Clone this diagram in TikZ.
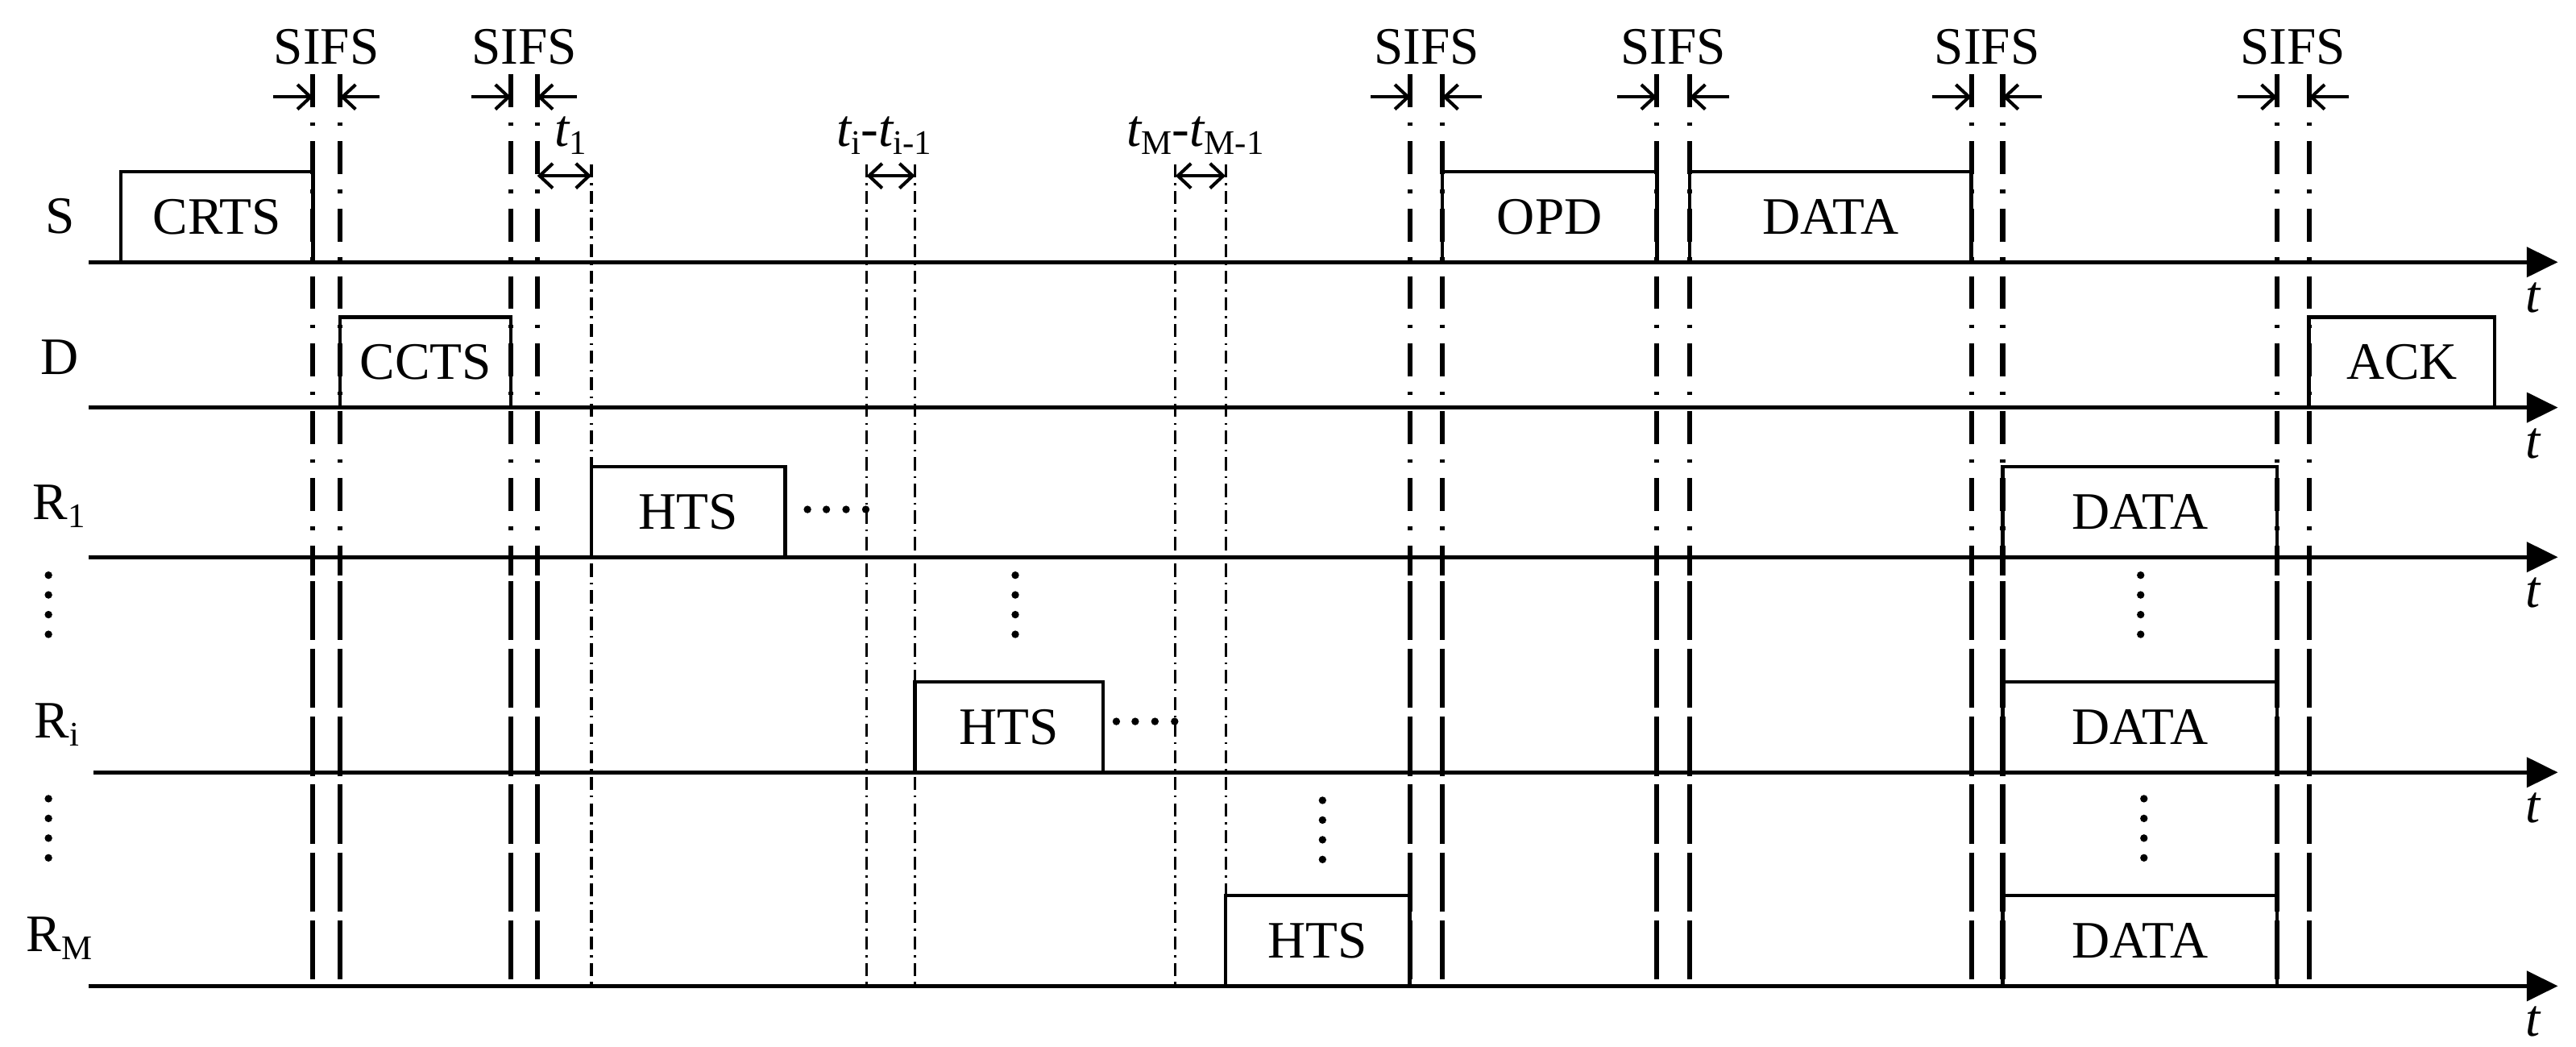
\documentclass[tikz,border=0pt]{standalone}
\usepackage{fontspec}
\setmainfont{Liberation Serif}
\usetikzlibrary{arrows.meta}
\newcommand\mysub[1]{\raisebox{-0.16em}{\fontsize{21pt}{21pt}\selectfont #1}}
\begin{document}
\begin{tikzpicture}[x=1pt,y=-1pt,
  every node/.style={font=\fontsize{32pt}{34pt}\selectfont, inner sep=0pt, outer sep=0pt},
  axis/.style={line width=2.6pt, -{Triangle[length=19pt,width=18pt]}},
  pkt/.style={draw, line width=2.2pt, anchor=south west, minimum height=55pt},
  sifsline/.style={line width=3pt, dash pattern=on 20pt off 9.5pt on 2pt off 9.5pt},
  sifslow/.style={line width=3pt, dash pattern=on 36pt off 5.3pt},
  tline/.style={line width=1.5pt, dash pattern=on 8pt off 3.5pt on 1.2pt off 3.5pt},
  marr/.style={line width=2pt, -{Straight Barb[length=8pt,width=15pt]}},
  darr/.style={line width=2pt, {Straight Barb[length=8pt,width=15pt]}-{Straight Barb[length=8pt,width=15pt]}},
  dotc/.style={fill=black, draw=none},
  lbl/.style={anchor=base},
]
\useasboundingbox (0,0) rectangle (1568,637);

% ---- SIFS double lines (dash-dot above, dashed below) ----
\foreach \a/\b [count=\k] in {190.5/207, 311/327, 858.5/878, 1008.5/1028.5, 1200/1219, 1386/1405.5}{
  \draw[sifsline] (\a,45) -- (\a,350);
  \draw[sifsline] (\b,45) -- (\b,350);
  \draw[sifslow] (\a,353.5) -- (\a,600);
  \draw[sifslow] (\b,353.5) -- (\b,600);
  \draw[marr] (\a-24,59) -- (\a,59);
  \draw[marr] (\b+24,59) -- (\b,59);
  \node[lbl] (sifs\k) at ({(\a+\b)/2},39) {SIFS};
}

% ---- thin timing lines ----
\foreach \x in {360, 527.5, 557, 715.5, 746}{
  \draw[tline] (\x,100) -- (\x,600);
}

% ---- timing double arrows ----
\draw[darr] (327,107) -- (360,107);
\draw[darr] (527.5,107) -- (557,107);
\draw[darr] (715.5,107) -- (746,107);
\node[anchor=base west] (t1) at (337.5,89) {{\itshape t}\mysub{1}};
\node[anchor=base west] (ti) at (509.5,89) {{\itshape t}\mysub{i}-{\itshape t}\mysub{i-1}};
\node[anchor=base west] (tm) at (686,89) {{\itshape t}\mysub{M}-{\itshape t}\mysub{M-1}};

% ---- time axes ----
\draw[axis] (54,159.5) -- (1557,159.5);
\draw[axis] (54,248) -- (1557,248);
\draw[axis] (54,339) -- (1557,339);
\draw[axis] (57,470) -- (1557,470);
\draw[axis] (54,600) -- (1557,600);
\foreach \y [count=\k] in {190, 279, 369.5, 500.5, 630.5}{
  \node[lbl] (tax\k) at (1542,\y) {\itshape t};
}

% ---- row labels ----
\node[lbl] (lS) at (36.5,142) {S};
\node[lbl] (lD) at (36.5,228) {D};
\node[anchor=base west] (lR1) at (20,316) {R\mysub{1}};
\node[anchor=base west] (lRi) at (21,449) {R\mysub{i}};
\node[anchor=base west] (lRM) at (16,579) {R\mysub{M}};

% ---- packets ----
\node[pkt, minimum width=117pt] (crts) at (73.5,159.5) {CRTS};
\node[pkt, minimum width=104pt] (ccts) at (207,248) {CCTS};
\node[pkt, minimum width=118pt] (hts1) at (360,339) {HTS};
\node[pkt, minimum width=114.5pt] (htsi) at (557,470) {HTS};
\node[pkt, minimum width=112pt] (htsm) at (746,600) {HTS};
\node[pkt, minimum width=130.5pt] (opd) at (878,159.5) {OPD};
\node[pkt, minimum width=171.5pt] (datas) at (1028.5,159.5) {DATA};
\node[pkt, minimum width=113pt] (ack) at (1405.5,248) {ACK};
\node[pkt, minimum width=167pt] (data1) at (1219,339) {DATA};
\node[pkt, minimum width=167pt] (datai) at (1219,470) {DATA};
\node[pkt, minimum width=167pt] (datam) at (1219,600) {DATA};

% ---- ellipsis dots ----
\foreach \x in {491.5, 503, 515, 527}{ \fill[dotc] (\x,310) circle (2.3pt); }
\foreach \x in {679.5, 691, 703, 715}{ \fill[dotc] (\x,439) circle (2.3pt); }
\foreach \y in {350, 362, 374, 386}{
  \fill[dotc] (29.5,\y) circle (2.3pt);
  \fill[dotc] (618,\y) circle (2.3pt);
  \fill[dotc] (1303,\y) circle (2.3pt);
}
\foreach \y in {486, 498, 510, 522}{
  \fill[dotc] (29.5,\y) circle (2.3pt);
  \fill[dotc] (805,\y+1) circle (2.3pt);
  \fill[dotc] (1305,\y) circle (2.3pt);
}
\end{tikzpicture}
\end{document}
